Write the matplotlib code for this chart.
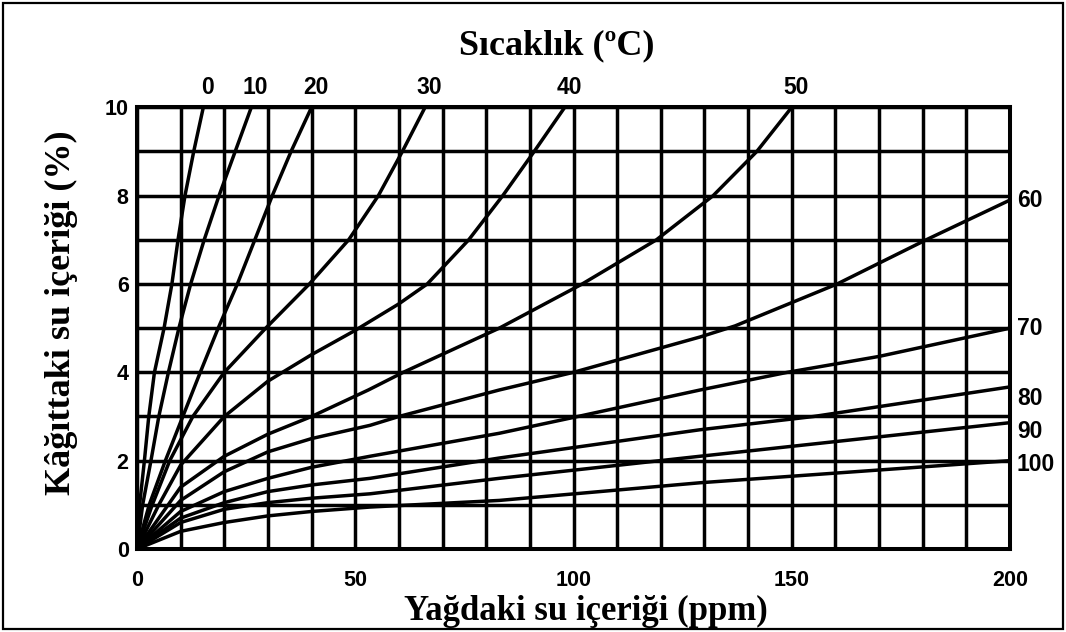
"""Paper / oil moisture equilibrium chart (Oommen-style curves)."""

import matplotlib

matplotlib.use("Agg")
import matplotlib.pyplot as plt
from matplotlib.patches import Rectangle
from matplotlib.ticker import MultipleLocator

# Temperatures (deg C) and the curves.
# x = water in oil (ppm), y = water in paper (%)
temperatures = [0, 10, 20, 30, 40, 50, 60, 70, 80, 90, 100]

ppm_0c = [0, 0.6, 1.7, 2.7, 4.0, 6.2, 8.0, 9.4, 11.0, 13.0, 15.2]
pct_0c = [0, 1, 2, 3, 4, 5, 6, 7, 8, 9, 10]

ppm_10c = [0, 1.3, 3.2, 5.0, 7.2, 9.6, 12.3, 15.4, 18.8, 22.5, 26.2]
pct_10c = [0, 1, 2, 3, 4, 5, 6, 7, 8, 9, 10]

ppm_20c = [0, 2.8, 6.5, 10.5, 14.5, 18.6, 23.0, 27.0, 31.0, 35.3, 40.0]
pct_20c = [0, 1, 2, 3, 4, 5, 6, 7, 8, 9, 10]

ppm_30c = [0, 3.5, 7.5, 12.8, 20.0, 29.5, 39.5, 48.5, 55.3, 60.8, 66.0]
pct_30c = [0, 1, 2, 3, 4, 5, 6, 7, 8, 9, 10]

ppm_40c = [0, 5, 10, 20, 30, 40, 50, 60, 66.5, 76.0, 83.8, 91.0, 98.0]
pct_40c = [0, 1.0, 1.9, 3.0, 3.8, 4.4, 4.95, 5.55, 6, 7, 8, 9, 10]

ppm_50c = [0, 10, 20, 30, 40, 53, 61, 83, 102, 119, 132, 142, 150]
pct_50c = [0, 1.4, 2.1, 2.6, 3.0, 3.6, 4.0, 5.0, 6, 7, 8, 9, 10]

ppm_60c = [0, 10, 20, 30, 40, 53.4, 60, 83, 100, 129, 137, 160.4, 180.8, 200]
pct_60c = [0, 1.1, 1.75, 2.2, 2.5, 2.8, 3.0, 3.6, 4.0, 4.8, 5.05, 6, 7, 7.9]

ppm_70c = [0, 10, 20, 30, 40, 53.4, 83, 101, 129, 149, 170, 200]
pct_70c = [0, 0.85, 1.3, 1.6, 1.85, 2.1, 2.62, 3.0, 3.6, 4.0, 4.36, 5.0]

ppm_80c = [0, 10, 20, 30, 40, 53.4, 83, 129, 155, 200]
pct_80c = [0, 0.7, 1.05, 1.3, 1.45, 1.6, 2.06, 2.7, 3.0, 3.67]

ppm_90c = [0, 10, 20, 30, 40, 53.4, 83, 129, 200]
pct_90c = [0, 0.6, 0.9, 1.05, 1.15, 1.25, 1.6, 2.1, 2.86]

ppm_100c = [0, 10, 20, 30, 40, 53.4, 83, 129, 200]
pct_100c = [0, 0.4, 0.6, 0.75, 0.85, 0.95, 1.1, 1.5, 2.0]

x_ticks = [0, 50, 100, 150, 200]
y_ticks = [0, 2, 4, 6, 8, 10]

title_text = "Sıcaklık (ºC)"
x_label = "Yağdaki su içeriği (ppm)"
y_label = "Kâğıttaki su içeriği (%)"

INK = "black"
LW = 2.5
SERIF = ["Liberation Serif", "DejaVu Serif"]
SANS = ["Liberation Sans", "DejaVu Sans"]


def _curves():
    return [
        (ppm_0c, pct_0c),
        (ppm_10c, pct_10c),
        (ppm_20c, pct_20c),
        (ppm_30c, pct_30c),
        (ppm_40c, pct_40c),
        (ppm_50c, pct_50c),
        (ppm_60c, pct_60c),
        (ppm_70c, pct_70c),
        (ppm_80c, pct_80c),
        (ppm_90c, pct_90c),
        (ppm_100c, pct_100c),
    ]


def build_chart(out_path="out.png"):
    fig = plt.figure(figsize=(10.66, 6.32), dpi=100)
    ax = fig.add_axes([0.1285, 0.1313, 0.819, 0.699])

    ax.set_xlim(0, 200)
    ax.set_ylim(0, 10)
    ax.xaxis.set_minor_locator(MultipleLocator(10))
    ax.yaxis.set_minor_locator(MultipleLocator(1))
    ax.set_xticks(x_ticks)
    ax.set_yticks(y_ticks)
    ax.grid(which="both", color=INK, linewidth=LW)
    ax.set_axisbelow(True)
    ax.tick_params(which="both", length=0)
    ax.tick_params(axis="x", pad=15)
    ax.tick_params(axis="y", pad=6)
    for lab in ax.get_xticklabels() + ax.get_yticklabels():
        lab.set_fontfamily(SANS)
        lab.set_fontweight("bold")
        lab.set_fontsize(15.5)
    for spine in ax.spines.values():
        spine.set_linewidth(LW + 0.4)
        spine.set_color(INK)

    for temp, (xs, ys) in zip(temperatures, _curves()):
        ax.plot(xs, ys, color=INK, linewidth=LW, solid_joinstyle="round",
                solid_capstyle="round")
        if ys[-1] >= 10:
            # curve leaves through the top edge: label above it
            ax.annotate(str(temp), (xs[-1], ys[-1]), xytext=(3, 6),
                        textcoords="offset points", ha="center", va="bottom",
                        fontsize=16.5, fontweight="bold", family=SANS,
                        annotation_clip=False)
        else:
            # curve leaves through the right edge: label to its right
            shift = {80: -8, 90: -6, 100: -3}.get(temp, 0)
            ax.annotate(str(temp), (xs[-1], ys[-1]), xytext=(5, shift),
                        textcoords="offset points", ha="left", va="center",
                        fontsize=16.5, fontweight="bold", family=SANS,
                        annotation_clip=False)

    fig.text(0.5225, 0.928, title_text, ha="center", va="center",
             fontsize=26, fontweight="bold", family=SERIF)
    fig.text(0.55, 0.032, x_label, ha="center", va="center",
             fontsize=25, fontweight="bold", family=SERIF)
    fig.text(0.058, 0.505, y_label, ha="center", va="center", rotation=90,
             fontsize=26, fontweight="bold", family=SERIF)

    # thin frame around the whole picture
    fig.patches.append(Rectangle((0.003, 0.005), 0.994, 0.99,
                                 transform=fig.transFigure, fill=False,
                                 edgecolor=INK, linewidth=1.6))

    fig.savefig(out_path, dpi=100, facecolor="white")
    plt.close(fig)


if __name__ == "__main__":
    build_chart()
